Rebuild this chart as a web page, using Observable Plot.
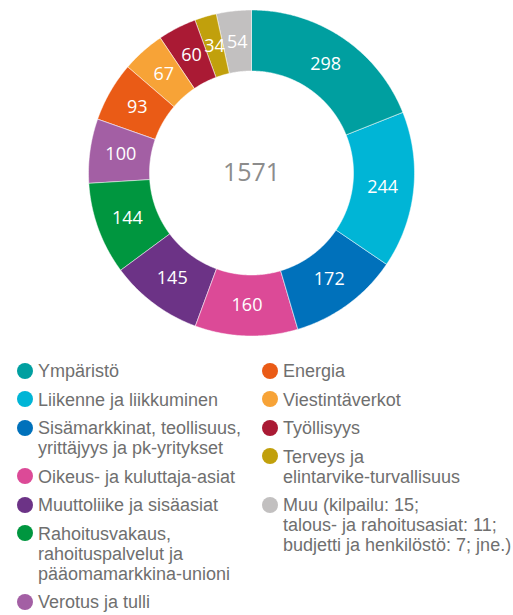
<!DOCTYPE html>
<html>
<head>
<meta charset="utf-8">
<script src="https://cdn.jsdelivr.net/npm/d3@7"></script>
<script src="https://cdn.jsdelivr.net/npm/@observablehq/plot@0.6"></script>
<style>
  html, body { margin: 0; padding: 0; background: #fff; }
  #wrap { position: relative; width: 513px; height: 615px; overflow: hidden; }
  #chart { position: absolute; left: 0; top: 0; }
  .legend { position: absolute; top: 361px; font-family: "Liberation Sans Narrow", "Arial Narrow", sans-serif; font-size: 18px; line-height: 20px; color: #6f6f6f; }
  .item { position: relative; padding-left: 21px; margin-bottom: 8.5px; white-space: nowrap; }
  .dot { position: absolute; left: 0; top: 1.5px; width: 16px; height: 16px; border-radius: 50%; }
</style>
</head>
<body>
<div id="wrap">
  <div id="chart"></div>
  <div class="legend" id="leg1" style="left:17px"></div>
  <div class="legend" id="leg2" style="left:262px"></div>
</div>
<script>
const categories = [
  "Ympäristö",
  "Liikenne ja liikkuminen",
  "Sisämarkkinat, teollisuus,\nyrittäjyys ja pk-yritykset",
  "Oikeus- ja kuluttaja-asiat",
  "Muuttoliike ja sisäasiat",
  "Rahoitusvakaus,\nrahoituspalvelut ja\npääomamarkkina-unioni",
  "Verotus ja tulli",
  "Energia",
  "Viestintäverkot",
  "Työllisyys",
  "Terveys ja\nelintarvike-turvallisuus",
  "Muu (kilpailu: 15;\ntalous- ja rahoitusasiat: 11;\nbudjetti ja henkilöstö: 7; jne.)"
];
const values = [298, 244, 172, 160, 145, 144, 100, 93, 67, 60, 34, 54];
const colors = ["#009fa0", "#00b5d6", "#0071bb", "#dc4a97", "#6c3386", "#00963f",
                "#a35fa4", "#ea5b16", "#f7a337", "#aa1a34", "#c1a00c", "#c2c0c0"];
const legendCol1 = [0, 1, 2, 3, 4, 5, 6];
const legendCol2 = [7, 8, 9, 10, 11];

const W = 513, H = 345;
const cx = 251, cy = 172.5, rOuter = 163, rInner = 102, rLabel = 132;
const total = d3.sum(values);

const arcs = d3.pie().sort(null).value(d => d)(values);
const polyRows = [];
arcs.forEach((a, i) => {
  const n = Math.max(4, Math.ceil((a.endAngle - a.startAngle) / 0.01));
  const pts = [];
  for (let k = 0; k <= n; k++) {
    const t = a.startAngle + (a.endAngle - a.startAngle) * k / n;
    pts.push([cx + rOuter * Math.sin(t), cy - rOuter * Math.cos(t)]);
  }
  for (let k = n; k >= 0; k--) {
    const t = a.startAngle + (a.endAngle - a.startAngle) * k / n;
    pts.push([cx + rInner * Math.sin(t), cy - rInner * Math.cos(t)]);
  }
  pts.forEach(p => polyRows.push({key: categories[i], x: p[0], y: p[1]}));
});
const labelRows = arcs.map((a, i) => {
  const m = (a.startAngle + a.endAngle) / 2;
  return {x: cx + rLabel * Math.sin(m), y: cy - rLabel * Math.cos(m), text: String(values[i])};
});
const centerRows = [{x: cx, y: cy, text: String(total)}];

const chart = Plot.plot({
  width: W, height: H,
  margin: 0,
  x: {domain: [0, W], range: [0, W], axis: null},
  y: {domain: [0, H], range: [0, H], axis: null},
  color: {domain: categories, range: colors},
  style: {background: "white"},
  marks: [
    Plot.line(polyRows, {x: "x", y: "y", z: "key", fill: "key", stroke: "white", strokeWidth: 0.5, curve: "linear-closed"}),
    Plot.text(labelRows, {x: "x", y: "y", text: "text", fill: "white", fontSize: 18, fontFamily: "Open Sans, sans-serif"}),
    Plot.text(centerRows, {x: "x", y: "y", text: "text", fill: "#8c8c8c", fontSize: 25, fontFamily: "Open Sans, sans-serif"})
  ]
});
document.getElementById("chart").appendChild(chart);

function fillLegend(id, idxs) {
  const el = document.getElementById(id);
  idxs.forEach(i => {
    const item = document.createElement("div");
    item.className = "item";
    const dot = document.createElement("span");
    dot.className = "dot";
    dot.style.background = colors[i];
    item.appendChild(dot);
    categories[i].split("\n").forEach((line, j) => {
      if (j) item.appendChild(document.createElement("br"));
      item.appendChild(document.createTextNode(line));
    });
    el.appendChild(item);
  });
}
fillLegend("leg1", legendCol1);
fillLegend("leg2", legendCol2);
</script>
</body>
</html>
